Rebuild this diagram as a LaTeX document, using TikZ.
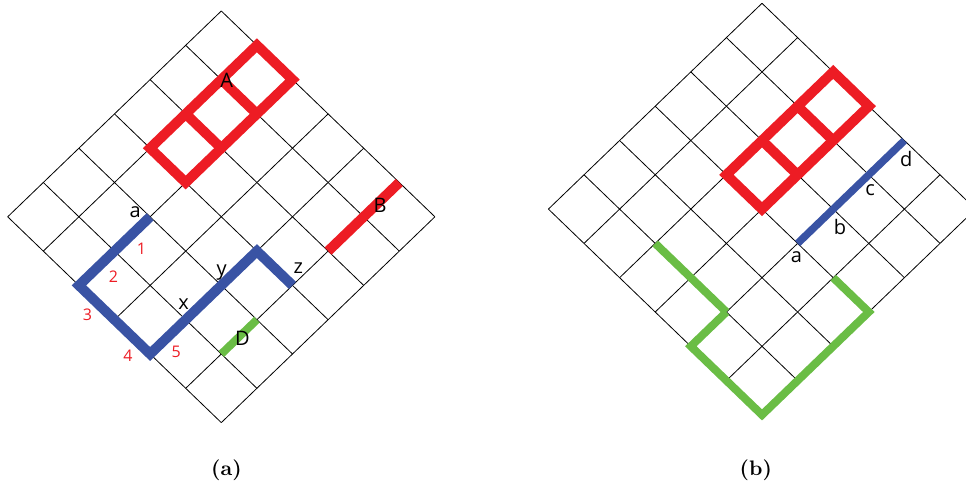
\documentclass[tikz,border=0pt]{standalone}
\usepackage{fontspec}
\newfontfamily\lblfont{Open Sans}
\newfontfamily\capfont{lmroman10-bold.otf}
\definecolor{pathred}{RGB}{237,28,36}
\definecolor{pathblue}{RGB}{57,83,164}
\definecolor{pathgreen}{RGB}{106,189,69}
\tikzset{
	gridline/.style={black, line width=0.8pt},
	redpath/.style={pathred, line width=10pt},
	bluepath/.style={pathblue, line width=10pt},
	greenpath/.style={pathgreen, line width=8pt},
	lbl/.style={font=\lblfont\fontsize{20}{24}\selectfont, inner sep=0pt},
	numlbl/.style={font=\lblfont\fontsize{16}{19}\selectfont, text=pathred, inner sep=0pt},
	sublabel/.style={font=\capfont\fontsize{21}{25}\selectfont, inner sep=0pt}
}
\begin{document}
\begin{tikzpicture}
	\useasboundingbox (0,0) rectangle (966pt,488pt);
	
	% (a) tilted grid
	\begin{scope}[shift={(221.3pt,477pt)}, x={(35.6pt,-34.3pt)}, y={(-35.6pt,-34.3pt)}]
		\foreach \k in {0,...,6} {
			\draw[gridline] (\k,0) -- (\k,6);
			\draw[gridline] (0,\k) -- (6,\k);
		}
		% block A
		\draw[redpath] (1,0) -- (2,0) -- (2,3) -- (1,3) -- cycle;
		\draw[redpath] (1,1) -- (2,1) (1,2) -- (2,2);
		% segment B
		\draw[redpath] (5,0) -- (5,2);
		% segment D
		\draw[greenpath] (5,4) -- (5,5);
		% blue walk
		\draw[bluepath] (2,4) -- (2,6) -- (4,6) -- (4,3) -- (5,3);
		
		\node[lbl] (lblA) at (1.09,0.94) {A};
		\node[lbl] (lblB) at (5.07,0.61) {B};
		\node[lbl] (lblD) at (5.07,4.48) {D};
		\node[lbl] (ptA) at (1.72,4.14) {a};
		\node[lbl] (ptX) at (3.74,4.80) {x};
		\node[lbl] (ptY) at (3.82,3.81) {y};
		\node[lbl] (ptZ) at (4.83,2.67) {z};
		\node[numlbl] (num1) at (2.34,4.58) {1};
		\node[numlbl] (num2) at (2.36,5.39) {2};
		\node[numlbl] (num3) at (2.55,6.31) {3};
		\node[numlbl] (num4) at (3.72,6.34) {4};
		\node[numlbl] (num5) at (4.33,5.60) {5};
	\end{scope}
	
	% (b) tilted grid
	\begin{scope}[shift={(762pt,484.7pt)}, x={(35.6pt,-34.3pt)}, y={(-35.6pt,-34.3pt)}]
		\foreach \k in {0,...,6} {
			\draw[gridline] (\k,0) -- (\k,6);
			\draw[gridline] (0,\k) -- (6,\k);
		}
		% block
		\draw[redpath] (2,0) -- (3,0) -- (3,3) -- (2,3) -- cycle;
		\draw[redpath] (2,1) -- (3,1) (2,2) -- (3,2);
		% blue segment
		\draw[bluepath, line width=7.5pt] (4,3) -- (4,0);
		% green walk
		\draw[greenpath] (2,5) -- (4,5);
		\draw[greenpath] (4,5) -- (4,6) -- (6,6) -- (6,3) -- (5,3);
		
		\node[lbl] (ptBa) at (4.18,3.21) {a};
		\node[lbl] (ptBb) at (4.35,2.16) {b};
		\node[lbl] (ptBc) at (4.24,1.20) {c};
		\node[lbl] (ptBd) at (4.30,0.25) {d};
	\end{scope}
	
	% captions
	\node[sublabel] (capA) at (226.5pt,18pt) {(a)};
	\node[sublabel] (capB) at (755.8pt,18pt) {(b)};
\end{tikzpicture}
\end{document}
